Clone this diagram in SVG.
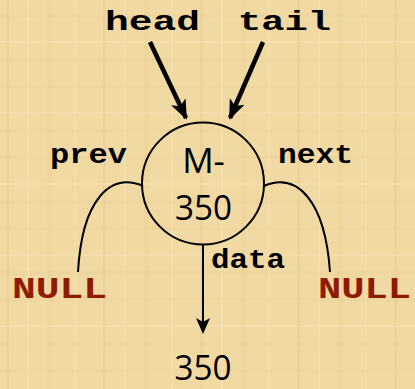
<svg xmlns="http://www.w3.org/2000/svg" width="415" height="389" viewBox="0 0 415 389">
  <defs>
    <style>
      .mono { font-family: "Liberation Mono", "Courier New", monospace; font-weight: bold; }
      .sans { font-family: "Open Sans", "Liberation Sans", sans-serif; }
      .ptr { font-size: 27px; fill: #000; }
      .null { font-size: 30px; fill: #8E1A00; }
      .wire { fill: none; stroke: #000; stroke-width: 2; }
    </style>
    <!-- parchment grain -->
    <pattern id="grain" width="97" height="71" patternUnits="userSpaceOnUse">
      <rect width="97" height="71" fill="#F0D9A2"/>
      <rect x="6" y="0" width="3" height="71" fill="#E3C88A" opacity="0.3"/>
      <rect x="27" y="0" width="2" height="71" fill="#F8E8BE" opacity="0.4"/>
      <rect x="47" y="0" width="5" height="71" fill="#E6CC90" opacity="0.25"/>
      <rect x="74" y="0" width="2" height="71" fill="#F6E3B4" opacity="0.4"/>
      <rect x="0" y="14" width="97" height="3" fill="#E5CA8D" opacity="0.2"/>
      <rect x="0" y="41" width="97" height="2" fill="#F8E7BE" opacity="0.35"/>
      <rect x="0" y="58" width="97" height="4" fill="#E4C98B" opacity="0.18"/>
    </pattern>
    <marker id="thin" viewBox="0 0 16 16" refX="14" refY="8" markerWidth="16" markerHeight="16" markerUnits="userSpaceOnUse" orient="auto">
      <path d="M0,1 L16,8 L0,15 L4,8 Z" fill="#000"/>
    </marker>
    <marker id="bold" viewBox="0 0 20 18" refX="18" refY="9" markerWidth="20" markerHeight="18" markerUnits="userSpaceOnUse" orient="auto">
      <path d="M0,1 L20,9 L0,17 L5,9 Z" fill="#000"/>
    </marker>
  </defs>

  <rect width="415" height="389" fill="url(#grain)"/>

  <g id="connectors">
    <line x1="150" y1="42" x2="186" y2="118" stroke="#000" stroke-width="4.5" marker-end="url(#bold)"/>
    <line x1="263" y1="42" x2="230" y2="118" stroke="#000" stroke-width="4.5" marker-end="url(#bold)"/>
    <path class="wire" d="M143,186 C110,172 82,200 78,272"/>
    <path class="wire" d="M264,186 C297,172 325,200 330,272"/>
    <line class="wire" x1="203" y1="245" x2="203" y2="332" marker-end="url(#thin)"/>
  </g>

  <g id="head">
    <text class="mono ptr" x="105" y="30" font-size="33" textLength="95" lengthAdjust="spacingAndGlyphs">head</text>
  </g>
  <g id="tail">
    <text class="mono ptr" x="238" y="30" font-size="33" textLength="93" lengthAdjust="spacingAndGlyphs">tail</text>
  </g>

  <g id="node-m350">
    <circle cx="203" cy="183.5" r="61" fill="none" stroke="#000" stroke-width="2"/>
    <text class="sans" x="203.5" y="173" font-size="35" text-anchor="middle">M-</text>
    <text class="sans" x="203.5" y="220" font-size="35" text-anchor="middle" textLength="57" lengthAdjust="spacingAndGlyphs">350</text>
  </g>

  <g id="label-prev">
    <text class="mono ptr" x="50" y="163" textLength="77" lengthAdjust="spacingAndGlyphs">prev</text>
  </g>
  <g id="label-next">
    <text class="mono ptr" x="278" y="163" textLength="75" lengthAdjust="spacingAndGlyphs">next</text>
  </g>
  <g id="label-data">
    <text class="mono ptr" x="211" y="268" textLength="74" lengthAdjust="spacingAndGlyphs">data</text>
  </g>

  <g id="null-left">
    <text class="mono null" x="12" y="298" textLength="95" lengthAdjust="spacingAndGlyphs">NULL</text>
  </g>
  <g id="null-right">
    <text class="mono null" x="318" y="298" textLength="93" lengthAdjust="spacingAndGlyphs">NULL</text>
  </g>

  <g id="value-350">
    <text class="sans" x="203" y="380" font-size="35" text-anchor="middle" textLength="57" lengthAdjust="spacingAndGlyphs">350</text>
  </g>
</svg>
